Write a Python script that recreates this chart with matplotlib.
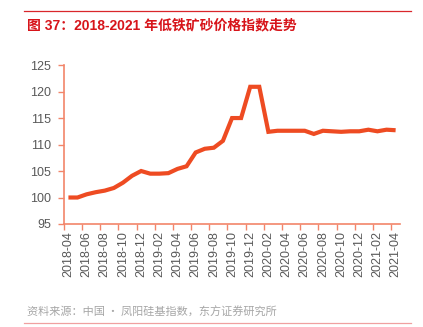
import matplotlib
matplotlib.use("Agg")
import matplotlib.pyplot as plt
from matplotlib.ticker import FixedLocator

plt.rcParams['font.family'] = ['Liberation Sans', 'Noto Sans CJK SC', 'DejaVu Sans']

# Monthly index, 2018-04 .. 2021-04
months = [f"{y}-{m:02d}" for y in range(2018, 2022) for m in range(1, 13)]
months = months[months.index("2018-04"):months.index("2021-04") + 1]
values = [100.0, 100.0, 100.6, 101.0, 101.3, 101.8, 102.8, 104.1, 105.0, 104.5,
          104.5, 104.6, 105.4, 105.9, 108.5, 109.2, 109.4, 110.7, 115.0, 115.0,
          120.9, 120.9, 112.4, 112.6, 112.6, 112.6, 112.6, 112.0, 112.6, 112.5,
          112.4, 112.5, 112.5, 112.8, 112.5, 112.8, 112.7]
y_ticks = [95, 100, 105, 110, 115, 120, 125]

title = "图 37：2018-2021 年低铁矿砂价格指数走势"
source = "资料来源：中国 · 凤阳硅基指数，东方证券研究所"

line_color = "#EE4B22"
axis_color = "#F2856A"
label_color = "#595959"

fig = plt.figure(figsize=(4.23, 3.27), dpi=100)
ax = fig.add_axes([0.151, 0.315, 0.795, 0.486])

x = list(range(len(values)))
ax.plot(x, values, color=line_color, linewidth=3.0, solid_capstyle="butt",
        solid_joinstyle="miter")

ax.set_xlim(-0.5, len(values) - 0.5)
ax.set_ylim(95, 125)
ax.set_yticks(y_ticks)
ax.set_yticklabels([str(v) for v in y_ticks])

# labels on every other month, tick marks on category boundaries
label_pos = x[::2]
ax.xaxis.set_major_locator(FixedLocator(label_pos))
ax.set_xticklabels([months[i] for i in label_pos], rotation=90)
ax.xaxis.set_minor_locator(FixedLocator([p - 0.5 for p in label_pos]))
ax.tick_params(axis="x", which="major", length=0, pad=5)
ax.tick_params(axis="x", which="minor", length=4, width=1, color=axis_color, direction="out")
ax.tick_params(axis="y", length=4, width=1, color=axis_color, direction="out", pad=5)
ax.tick_params(axis="both", labelsize=9, labelcolor=label_color)

for side in ("top", "right"):
    ax.spines[side].set_visible(False)
for side in ("left", "bottom"):
    ax.spines[side].set_color(axis_color)
    ax.spines[side].set_linewidth(1.2)

# header rule and title
fig.add_artist(plt.Line2D([24 / 423, 411 / 423], [1 - 11 / 327, 1 - 11 / 327],
                          color="#D9262B", linewidth=0.9))
fig.text(27 / 423, 1 - 25 / 327, title, color="#D7141A", fontsize=10,
         fontweight="bold", va="center", ha="left",
         family=['Liberation Sans', 'Noto Sans CJK SC'])

# footer source and rule
fig.text(27 / 423, 1 - 312 / 327, source, color="#A6A6A6", fontsize=8,
         va="center", ha="left", family=['Noto Sans CJK SC', 'DejaVu Sans'])
fig.add_artist(plt.Line2D([24 / 423, 411 / 423], [1 - 323 / 327, 1 - 323 / 327],
                          color="#F0A0A0", linewidth=0.9))

fig.savefig("out.png", dpi=100)
